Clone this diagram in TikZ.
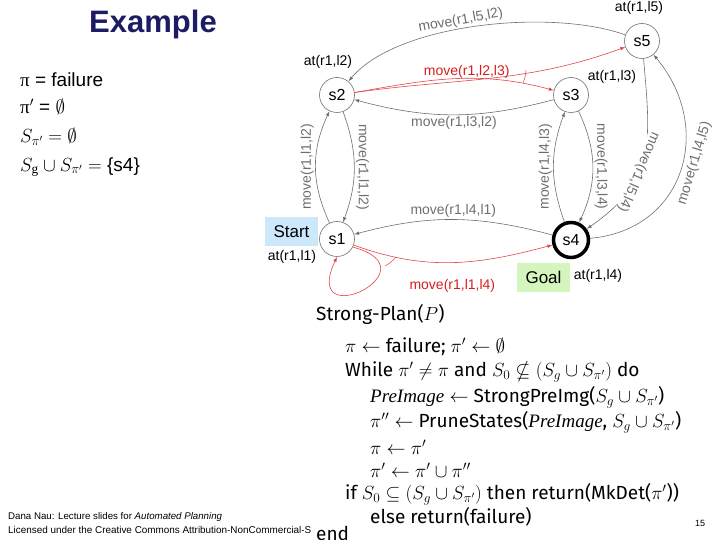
\RequirePackage{fix-cm}
\documentclass[tikz,border=0pt]{standalone}
\usepackage{amsmath,amssymb}
\usepackage{fontspec}
\setmainfont{Liberation Sans}
\newfontfamily\algfont{Fira Sans}
\newfontfamily\symfont{Liberation Serif}
\usetikzlibrary{arrows.meta,positioning}

\definecolor{titleblue}{RGB}{28,28,100}
\definecolor{edgegray}{RGB}{110,110,110}
\definecolor{planred}{RGB}{225,70,70}
\definecolor{labelred}{RGB}{215,30,30}
\definecolor{startblue}{RGB}{205,232,250}
\definecolor{goalgreen}{RGB}{212,245,190}

\newcommand{\preimg}{\text{\symfont\itshape PreImage}}

\begin{document}
\begin{tikzpicture}[
        x=1pt, y=1pt,
        state/.style={
            circle,
            draw=edgegray,
            line width=0.6pt,
            minimum size=35pt,
            inner sep=0pt,
            font=\fontsize{16}{16}\selectfont
        },
        goalstate/.style={
            state,
            draw=black,
            line width=3.5pt
        },
        edge/.style={-{Latex[length=5pt,width=3.5pt]}, edgegray, line width=0.6pt},
        redge/.style={edge, planred},
        lbl/.style={font=\fontsize{14}{14}\selectfont, inner sep=1.5pt},
        rlbl/.style={lbl, text=labelred},
        tag/.style={
            rectangle,
            minimum width=53pt,
            minimum height=29pt,
            inner sep=0pt,
            font=\fontsize{17}{17}\selectfont
        },
        lefttext/.style={anchor=west, inner sep=0pt, font=\fontsize{19}{19}\selectfont},
        algline/.style={anchor=west, inner sep=0pt, font=\algfont\fontsize{19}{19}\selectfont}
    ]

        \useasboundingbox (0,0) rectangle (720,540);

        % title and state of the search
        \node[font=\bfseries\fontsize{31}{31}\selectfont, text=titleblue] (title) at (153,516) {Example};
        \node[lefttext] (pi) at (20,460) {{\symfont π} = failure};
        \node[lefttext] (pip) at (20,433) {{\symfont π}$'$ = $\emptyset$};
        \node[lefttext] (spi) at (20,403) {$S_{\pi'} = \emptyset$};
        \node[lefttext] (sg) at (20,373) {$S_{\text{\symfont g}} \cup S_{\pi'} =$ \{s4\}};

        % states
        \node[state] (s5) at (642,499) {s5};
        \node[state] (s2) at (337,445) {s2};
        \node[state] (s3) at (571,445) {s3};
        \node[state] (s1) at (337,301) {s1};
        \node[goalstate] (s4) at (571,300) {s4};

        \node[lbl] (at5) at (639,532) {at(r1,l5)};
        \node[lbl] (at2) at (328,478) {at(r1,l2)};
        \node[lbl] (at3) at (612,463) {at(r1,l3)};
        \node[lbl] (at1) at (292,283) {at(r1,l1)};
        \node[lbl] (at4) at (598,264) {at(r1,l4)};

        \node[tag, fill=startblue] (start) at (291.5,308.5) {Start};
        \node[tag, fill=goalgreen] (goal) at (543.5,262.5) {Goal};

        % transitions
        \draw[edge] (s5) to[out=160,in=50,looseness=0.7] node[lbl, sloped, above, pos=0.55] {move(r1,l5,l2)} (s2);
        \draw[redge] (s2.8) to[out=8,in=200] node[rlbl, above, pos=0.4] {move(r1,l2,l3)} (s5);
        \draw[redge] (s2.8) to[out=10,in=165] (s3);
        \draw[planred, line width=0.5pt] (526,470) to[bend left=10] (523,457);
        \draw[edge] (s3) to[out=195,in=-15] node[lbl, below] {move(r1,l3,l2)} (s2);
        \draw[edge] (s1) to[bend left=25] node[lbl, sloped, allow upside down, above] {move(r1,l1,l2)} (s2);
        \draw[edge] (s2) to[bend left=20] node[lbl, sloped, allow upside down, above] {move(r1,l1,l2)} (s1);
        \draw[edge] (s4) to[bend left=20] node[lbl, sloped, allow upside down, above] {move(r1,l4,l3)} (s3);
        \draw[edge] (s3) to[bend left=25] node[lbl, sloped, allow upside down, above] {move(r1,l3,l4)} (s4);
        \draw[edge] (s5) to[out=-85,in=35,looseness=1.2] node[lbl, sloped, allow upside down, fill=white, inner sep=0.5pt, pos=0.6] {move(r1,l5,l4)} (s4);
        \draw[edge] (s4) to[out=5,in=-50,looseness=1.25] node[lbl, rotate=73, anchor=north, inner sep=5pt, pos=0.55] {move(r1,l4,l5)} (s5);
        \draw[edge] (s4) to[out=165,in=15] node[lbl, above] {move(r1,l4,l1)} (s1);
        \draw[redge] (s1) to[out=-20,in=195] node[rlbl, below=15pt] {move(r1,l1,l4)} (s4);
        \draw[redge] (s1.-27) to[out=-15,in=-115,looseness=12] (s1.-90);
        \draw[planred, line width=0.5pt] (385,274) to[bend right=10] (396,283);

        % the algorithm
        \node[algline] (a1) at (316,225) {Strong-Plan($P$)};
        \node[algline] (a2) at (345,193) {$\pi \leftarrow$ failure; $\pi' \leftarrow \emptyset$};
        \node[algline] (a3) at (345,168) {While $\pi' \neq \pi$ and $S_0 \nsubseteq (S_g \cup S_{\pi'})$ do};
        \node[algline] (a4) at (370,143) {$\preimg \leftarrow$ StrongPreImg($S_g \cup S_{\pi'}$)};
        \node[algline] (a5) at (370,118) {$\pi'' \leftarrow$ PruneStates($\preimg$, $S_g \cup S_{\pi'}$)};
        \node[algline] (a6) at (370,93) {$\pi \leftarrow \pi'$};
        \node[algline] (a7) at (370,70) {$\pi' \leftarrow \pi' \cup \pi''$};
        \node[algline] (a8) at (345,46) {if $S_0 \subseteq (S_g \cup S_{\pi'})$ then return(MkDet($\pi'$))};
        \node[algline] (a9) at (370,23) {else return(failure)};

        % footer
        \node[anchor=west, inner sep=0pt, font=\fontsize{9.7}{9.7}\selectfont] (f1) at (8,23) {Dana Nau: Lecture slides for \textit{Automated Planning}};
        \node[anchor=west, inner sep=0pt, font=\fontsize{9.9}{9.9}\selectfont] (f2) at (8,10) {Licensed under the Creative Commons Attribution-NonCommercial-S};
        \node[algline, anchor=base west] (a10) at (316,-1) {end};
        \node[font=\fontsize{9}{9}\selectfont] (page) at (700,17) {15};

    \end{tikzpicture}
\end{document}
